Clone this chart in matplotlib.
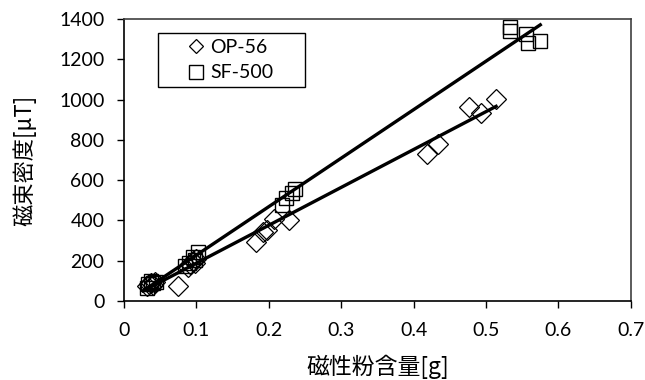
import numpy as np
import matplotlib
matplotlib.use("Agg")
import matplotlib.pyplot as plt
from matplotlib.lines import Line2D
from matplotlib.patches import Rectangle

plt.rcParams['font.family'] = ['Lato', 'Noto Sans CJK JP', 'DejaVu Sans']

# OP-56 measurements
op_x = [0.032, 0.035, 0.038, 0.040, 0.043, 0.075, 0.088, 0.092, 0.095, 0.098, 0.100,
        0.182, 0.192, 0.197, 0.207, 0.228, 0.419, 0.434, 0.477, 0.493, 0.514]
op_y = [75, 85, 90, 80, 95, 75, 170, 185, 200, 190, 210,
        293, 340, 352, 407, 402, 730, 780, 963, 933, 1003]

# SF-500 measurements
sf_x = [0.032, 0.034, 0.037, 0.040, 0.044, 0.085, 0.090, 0.095, 0.098, 0.103,
        0.218, 0.224, 0.232, 0.236, 0.533, 0.533, 0.555, 0.558, 0.575]
sf_y = [65, 85, 100, 90, 95, 175, 190, 220, 205, 245,
        477, 511, 536, 556, 1360, 1340, 1325, 1281, 1291]

x_ticks = [0, 0.1, 0.2, 0.3, 0.4, 0.5, 0.6, 0.7]
x_labels = ["0", "0.1", "0.2", "0.3", "0.4", "0.5", "0.6", "0.7"]
y_ticks = [0, 200, 400, 600, 800, 1000, 1200, 1400]

cjk = ['Noto Sans CJK JP', 'DejaVu Sans']

fig = plt.figure(figsize=(6.45, 3.8), dpi=100)
ax = fig.add_axes([0.192, 0.208, 0.786, 0.742])

ax.plot(op_x, op_y, linestyle="none", marker="D", markersize=10.5,
        markerfacecolor="none", markeredgecolor="black", markeredgewidth=0.9)
ax.plot(sf_x, sf_y, linestyle="none", marker="s", markersize=10.5,
        markerfacecolor="none", markeredgecolor="black", markeredgewidth=1.0)

# linear trend lines
for xs, ys in [(op_x, op_y), (sf_x, sf_y)]:
    k, b = np.polyfit(xs, ys, 1)
    xx = np.array([min(xs) - 0.005, max(xs)])
    ax.plot(xx, k * xx + b, color="black", linewidth=2.4)

ax.set_xlim(0, 0.7)
ax.set_ylim(0, 1400)
ax.set_xticks(x_ticks)
ax.set_xticklabels(x_labels)
ax.set_yticks(y_ticks)
ax.tick_params(direction="out", length=5, width=1, labelsize=14, color="black")
ax.tick_params(axis="x", pad=10.5)
ax.tick_params(axis="y", pad=9)
for s in ax.spines.values():
    s.set_linewidth(1.2)
    s.set_color("#404040")
ax.spines["bottom"].set_color("black")
ax.spines["left"].set_color("black")

ax.set_xlabel("磁性粉含量[g]", fontsize=16.5, family=cjk)
ax.set_ylabel("磁束密度[μT]", fontsize=16, family=cjk)
ax.xaxis.set_label_coords(0.5, -0.19)
ax.yaxis.set_label_coords(-0.172, 0.5)

# legend: box drawn separately so it can be wider than its entries
ax.add_patch(Rectangle((0.067, 0.759), 0.290, 0.191, transform=ax.transAxes,
                       facecolor="white", edgecolor="black", linewidth=1.0, zorder=4))
handles = [
    Line2D([], [], linestyle="none", marker="D", markersize=7,
           markerfacecolor="none", markeredgecolor="black", markeredgewidth=0.9),
    Line2D([], [], linestyle="none", marker="s", markersize=10,
           markerfacecolor="none", markeredgecolor="black", markeredgewidth=1.0),
]
leg = ax.legend(handles, ["OP-56", "SF-500"], loc="upper left",
                bbox_to_anchor=(0.124, 0.93), fontsize=14, frameon=False,
                borderpad=0, borderaxespad=0, handlelength=1.0,
                handletextpad=0.2, labelspacing=0.45)
leg.set_zorder(5)

fig.savefig("out.png", dpi=100)
